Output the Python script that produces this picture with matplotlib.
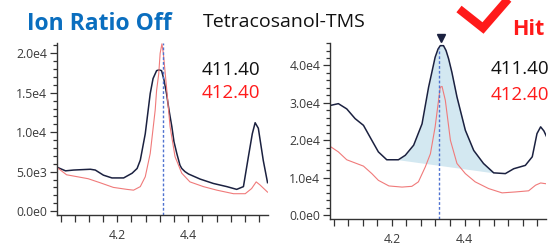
import numpy as np
import matplotlib
matplotlib.use("Agg")
import matplotlib.pyplot as plt
from matplotlib.ticker import FixedLocator, MultipleLocator, FuncFormatter
from matplotlib.lines import Line2D

# ---------------- data ----------------
title_left = "Ion Ratio Off"
title_mid = "Tetracosanol-TMS"
hit_label = "Hit"
ion_labels = ["411.40", "412.40"]

# left panel (retention time in min, intensity)
left_411_x = [4.028, 4.054, 4.077, 4.124, 4.138, 4.161, 4.185, 4.218, 4.242, 4.256, 4.265, 4.279,
              4.293, 4.301, 4.311, 4.318, 4.325, 4.332, 4.339, 4.346, 4.354, 4.360, 4.368, 4.377,
              4.382, 4.391, 4.401, 4.434, 4.471, 4.509, 4.537, 4.556, 4.570, 4.581, 4.589, 4.598,
              4.612, 4.624]
left_411_y = [5600, 5100, 5200, 5300, 5200, 4550, 4200, 4200, 4800, 5400, 6450, 9800,
              14900, 16800, 17800, 17900, 17800, 16600, 14900, 12800, 10700, 8800, 7300, 5800,
              5400, 5000, 4700, 4050, 3500, 3100, 2750, 3100, 6900, 9800, 11200, 10500,
              6400, 3600]
left_412_x = [4.028, 4.057, 4.118, 4.151, 4.189, 4.227, 4.246, 4.265, 4.279, 4.293, 4.307, 4.311,
              4.317, 4.321, 4.326, 4.330, 4.339, 4.349, 4.363, 4.382, 4.405, 4.443, 4.481, 4.528,
              4.561, 4.579, 4.592, 4.603, 4.624]
left_412_y = [5600, 4600, 4100, 3600, 3000, 2750, 2650, 3100, 4350, 7300, 12800, 15300,
              17400, 20000, 21200, 20000, 15700, 10700, 6900, 4800, 3700, 3100, 2650, 2200,
              2200, 2850, 3700, 3300, 2400]
left_rt = 4.328

# right panel
right_411_x = [4.030, 4.053, 4.076, 4.099, 4.122, 4.145, 4.163, 4.186, 4.218, 4.237, 4.260, 4.283,
               4.301, 4.310, 4.319, 4.327, 4.333, 4.342, 4.349, 4.356, 4.365, 4.379, 4.402, 4.425,
               4.452, 4.480, 4.512, 4.535, 4.567, 4.586, 4.599, 4.609, 4.618, 4.630]
right_411_y = [29300, 29800, 28400, 25800, 24000, 20000, 16900, 14800, 14800, 16000, 18700, 24400,
               34200, 38200, 42200, 44400, 45300, 45300, 44000, 41800, 38200, 31600, 22700, 17300,
               13800, 11300, 11100, 12400, 13300, 15600, 21800, 23600, 22500, 20000]
right_412_x = [4.030, 4.053, 4.076, 4.122, 4.145, 4.163, 4.192, 4.228, 4.255, 4.273, 4.292, 4.306,
               4.319, 4.333, 4.338, 4.347, 4.361, 4.379, 4.402, 4.429, 4.466, 4.503, 4.540, 4.576,
               4.595, 4.609, 4.630]
right_412_y = [18400, 16900, 14800, 13100, 11100, 9300, 7800, 7500, 7700, 8900, 12900, 16400,
               23600, 34200, 34400, 30700, 20000, 13800, 11100, 8900, 7100, 5950, 6200, 6500,
               8000, 8600, 8300]
right_rt = 4.330
peak_apex = (4.336, 47400)
integ_start = 4.218
integ_end = 4.480

x_ticks = [4.2, 4.4]
left_yticks = [0, 5000, 10000, 15000, 20000]
right_yticks = [0, 10000, 20000, 30000, 40000]

# ---------------- style ----------------
plt.rcParams['font.family'] = ['Open Sans', 'DejaVu Sans']
C_BLACK = '#1b2140'
C_RED = '#f07a7a'
C_TXT_RED = '#ff1a1a'
C_BLUE_TITLE = '#0a6ebf'
C_DASH = '#4f72d0'
C_FILL = '#d3e8f1'
C_TICK = '#3a3a3a'

fig = plt.figure(figsize=(5.55, 2.46), dpi=100)


def sci_fmt(v, pos=None):
    if v == 0:
        return "0.0e0"
    e = int(np.floor(np.log10(abs(v))))
    m = v / 10 ** e
    return f"{m:.1f}e{e}"


def style_axes(ax, ylim, yminor):
    ax.set_xlim(4.030, 4.625)
    ax.set_ylim(*ylim)
    for s in ['top', 'right']:
        ax.spines[s].set_visible(False)
    for s in ['left', 'bottom']:
        ax.spines[s].set_color('#333333')
        ax.spines[s].set_linewidth(1.0)
    ax.xaxis.set_major_locator(FixedLocator(x_ticks))
    ax.xaxis.set_minor_locator(MultipleLocator(0.04))
    ax.yaxis.set_major_formatter(FuncFormatter(sci_fmt))
    ax.yaxis.set_minor_locator(MultipleLocator(yminor))
    ax.tick_params(axis='both', which='both', direction='out', color='#333333',
                   labelsize=8.8, labelcolor=C_TICK, width=0.9)
    ax.tick_params(axis='x', which='both', length=5, pad=5)
    ax.tick_params(axis='y', which='major', length=5, pad=2)
    ax.tick_params(axis='y', which='minor', length=3)


# left panel
axL = fig.add_axes([0.1027, 0.126, 0.380, 0.699])
axL.plot(left_411_x, left_411_y, color=C_BLACK, lw=1.1)
axL.plot(left_412_x, left_412_y, color=C_RED, lw=0.8)
axL.axvline(left_rt, color=C_DASH, lw=1.0, ls=(0, (2, 1.5)))
axL.set_yticks(left_yticks)
style_axes(axL, (-500, 21300), 1000)

# right panel
axR = fig.add_axes([0.5946, 0.108, 0.390, 0.717])
rx = np.array(right_411_x)
ry = np.array(right_411_y)
mask = (rx >= integ_start) & (rx <= integ_end)
y0 = np.interp(integ_start, rx, ry)
y1 = np.interp(integ_end, rx, ry)
base = y0 + (rx[mask] - integ_start) * (y1 - y0) / (integ_end - integ_start)
axR.fill_between(rx[mask], ry[mask], base, color=C_FILL, lw=0)
axR.plot(right_412_x, right_412_y, color=C_RED, lw=0.8)
axR.plot(right_411_x, right_411_y, color=C_BLACK, lw=1.1)
axR.axvline(right_rt, ymax=0.97, color=C_DASH, lw=1.0, ls=(0, (2, 1.5)))
axR.plot([peak_apex[0]], [peak_apex[1]], marker='v', color=C_BLACK, ms=6, clip_on=False)
axR.set_yticks(right_yticks)
style_axes(axR, (-1150, 46000), 2000)

# texts
fig.text(27 / 555, 1 - 30 / 246, title_left, color=C_BLUE_TITLE, fontsize=16.5,
         fontweight='bold', ha='left', va='baseline')
fig.text(203 / 555, 1 - 27 / 246, title_mid, color='#111111', fontsize=14,
         ha='left', va='baseline')
fig.text(512 / 555, 1 - 35 / 246, hit_label, color=C_TXT_RED, fontsize=15.5,
         fontweight='bold', ha='left', va='baseline')
fig.text(202 / 555, 1 - 75 / 246, ion_labels[0], color='#111111', fontsize=13.5,
         ha='left', va='baseline')
fig.text(202 / 555, 1 - 98 / 246, ion_labels[1], color=C_TXT_RED, fontsize=13.5,
         ha='left', va='baseline')
fig.text(491 / 555, 1 - 74 / 246, ion_labels[0], color='#111111', fontsize=13.5,
         ha='left', va='baseline')
fig.text(491 / 555, 1 - 100 / 246, ion_labels[1], color=C_TXT_RED, fontsize=13.5,
         ha='left', va='baseline')

# check mark
chk_x = [459 / 555, 483 / 555, 516 / 555]
chk_y = [1 - 9 / 246, 1 - 28 / 246, 1 + 10 / 246]
fig.add_artist(Line2D(chk_x, chk_y, color=C_TXT_RED, lw=6,
                      solid_joinstyle='miter', solid_capstyle='butt',
                      transform=fig.transFigure))

fig.savefig("out.png", dpi=100)
